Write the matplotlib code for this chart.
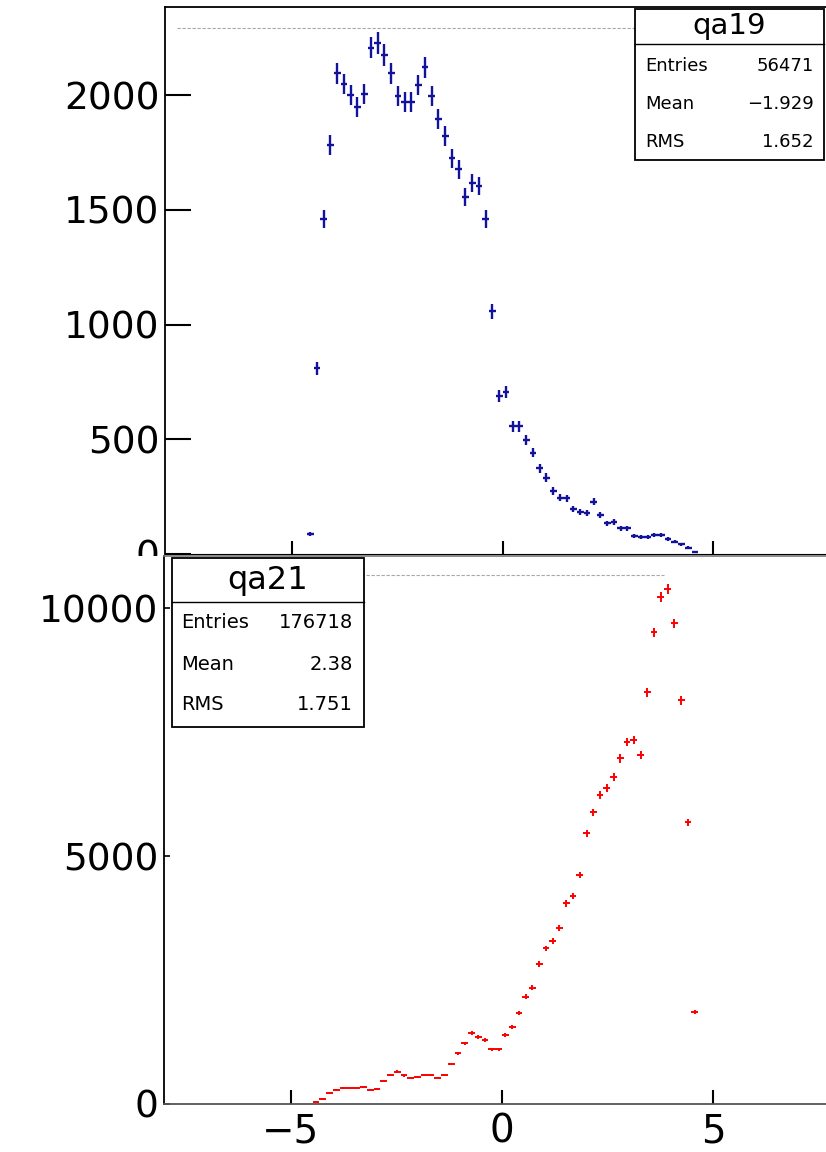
import numpy as np
import matplotlib.pyplot as plt
from matplotlib.patches import Rectangle

plt.rcParams['font.family'] = ['DejaVu Sans']

# histogram binning: 100 bins on [-8, 8]
n_bins = 100
x_lo, x_hi = -8.0, 8.0

# qa19 bin contents, starting at bin 21
qa19_first = 21
qa19_counts = [87, 809,
               1461, 1782, 2095, 2048, 2000, 1947, 2004, 2207, 2227, 2175,
               2095, 1996, 1970, 1970, 2044, 2122, 1996, 1895, 1821, 1725,
               1677, 1555, 1616, 1603, 1461,
               1058, 690, 707, 556, 556, 498, 442, 373, 333, 275, 246, 242,
               195, 183, 178, 228, 169, 134, 140, 112, 112, 79, 76, 76, 82,
               82, 64, 54, 42, 28, 8]
qa19_stats = [('Entries', '56471'), ('Mean', '\u22121.929'), ('RMS', '1.652')]

# qa21 bin contents, starting at bin 22
qa21_first = 22
qa21_counts = [47, 107, 215, 282, 316, 316, 316, 343, 282, 309, 470, 585,
               652, 578, 518, 551, 585, 585, 518, 585, 806, 1021, 1223, 1438,
               1357, 1290, 1102, 1102, 1391, 1559, 1828,
               2163, 2345, 2822, 3139, 3286, 3554, 4046, 4193, 4617, 5457,
               5881, 6229, 6365, 6598, 6969, 7304, 7338, 7036, 8300, 9510,
               10228, 10376, 9691, 8145, 5679,
               1849]
qa21_stats = [('Entries', '176718'), ('Mean', '2.38'), ('RMS', '1.751')]

edges = np.linspace(x_lo, x_hi, n_bins + 1)
centers = 0.5 * (edges[1:] + edges[:-1])
half_w = 0.5 * (edges[1] - edges[0])

W, H = 826, 1152
fig = plt.figure(figsize=(W / 100, H / 100), dpi=100)


def fx(x):
    return x / W


def fy(y):
    return 1 - y / H


def pad_axes(left, top, right, bottom):
    return [fx(left), fy(bottom), fx(right) - fx(left), fy(top) - fy(bottom)]


def draw_hist(ax, first, counts, color, lw):
    y = np.array(counts, dtype=float)
    x = centers[first:first + len(y)]
    ax.errorbar(x, y, xerr=half_w, yerr=np.sqrt(y), fmt='none',
                ecolor=color, elinewidth=lw, capsize=0, zorder=3)


def stats_box(x0, y0, x1, y1, ydiv, name, rows, row_y, tx, vx, fs_t, fs):
    fig.add_artist(Rectangle((fx(x0), fy(y1)), fx(x1) - fx(x0), fy(y0) - fy(y1),
                             transform=fig.transFigure, facecolor='white',
                             edgecolor='black', lw=1.3, zorder=5))
    fig.add_artist(plt.Line2D([fx(x0), fx(x1)], [fy(ydiv), fy(ydiv)],
                              transform=fig.transFigure, color='black',
                              lw=1.0, zorder=6))
    fig.text(fx((x0 + x1) / 2), fy((y0 + ydiv) / 2), name, ha='center',
             va='center', fontsize=fs_t, zorder=7)
    for (lab, val), yy in zip(rows, row_y):
        fig.text(fx(tx), fy(yy), lab, ha='left', va='center', fontsize=fs, zorder=7)
        fig.text(fx(vx), fy(yy), val, ha='right', va='center', fontsize=fs, zorder=7)


# upper pad
ax1 = fig.add_axes(pad_axes(165, 7, 840, 554))
ax1.set_zorder(0)
draw_hist(ax1, qa19_first, qa19_counts, '#12129c', 1.7)
ax1.set_xlim(x_lo, x_hi)
ax1.set_ylim(0, 2384)
ax1.set_yticks([0, 500, 1000, 1500, 2000])
ax1.set_xticks([-5, 0, 5])
ax1.tick_params(axis='y', direction='in', length=19, width=1.5, labelsize=27, pad=4)
ax1.tick_params(axis='x', direction='in', length=9.5, width=1.5, labelbottom=False)
ax1.axhline(0.962 * 2384, xmin=0.018, xmax=0.74, color='#a8a8a8', lw=0.8,
            ls=(0, (3, 1.5)), zorder=2)

# lower pad covers the upper one
fig.add_artist(Rectangle((0, 0), 1, fy(556), transform=fig.transFigure,
                         facecolor='white', edgecolor='none', zorder=0.5))

ax2 = fig.add_axes(pad_axes(164, 556, 840, 1104))
ax2.set_zorder(1)
draw_hist(ax2, qa21_first, qa21_counts, 'red', 1.4)
ax2.set_xlim(x_lo, x_hi)
ax2.set_ylim(0, 11050)
ax2.set_yticks([0, 5000, 10000])
ax2.set_xticks([-5, 0, 5])
ax2.xaxis.set_major_formatter(plt.FuncFormatter(lambda v, p: f'{v:.0f}'.replace('-', '\u2212')))
ax2.tick_params(axis='y', direction='in', length=4.5, width=1.2, labelsize=27, pad=4)
ax2.tick_params(axis='x', direction='in', length=10, width=1.5, labelsize=28, pad=6)
ax2.axhline(0.965 * 11050, xmin=0.018, xmax=0.74, color='#a8a8a8', lw=0.8,
            ls=(0, (3, 1.5)), zorder=2)

for ax in (ax1, ax2):
    for s in ax.spines.values():
        s.set_linewidth(1.3)
ax1.spines['bottom'].set_linewidth(0.8)
ax2.spines['top'].set_color('#777777')
ax2.spines['top'].set_linewidth(1.2)
ax2.spines['bottom'].set_color('#555555')

stats_box(635, 9, 824, 160, 44, 'qa19', qa19_stats, [66, 104, 142], 645, 814, 21, 13)
stats_box(172, 558, 364, 727, 602, 'qa21', qa21_stats, [622, 664, 705], 181, 353, 23, 14)

fig.savefig('out.png', dpi=100)
